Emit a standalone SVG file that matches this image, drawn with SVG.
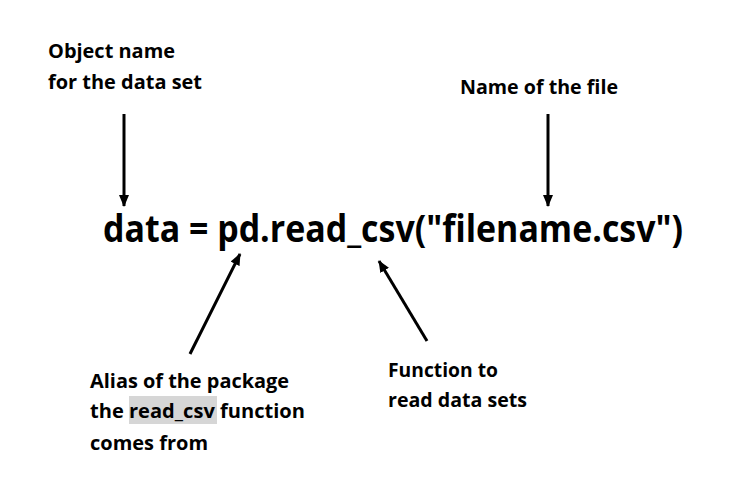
<svg xmlns="http://www.w3.org/2000/svg" width="741" height="494" viewBox="0 0 741 494">
<style>
.lbl{font-family:"Open Sans","Liberation Sans",sans-serif;font-weight:bold;font-size:19px;fill:#000}
.code{font-family:"Open Sans","Liberation Sans",sans-serif;font-weight:bold;font-size:37px;fill:#000}
.arr{stroke:#000;stroke-width:3;fill:none;marker-end:url(#ah)}
</style>
<defs>
<marker id="ah" viewBox="0 0 12 10" refX="11" refY="5" markerWidth="4" markerHeight="3.4" markerUnits="strokeWidth" orient="auto">
<path d="M0,0 L12,5 L0,10 Z" fill="#000"/>
</marker>
</defs>
<rect width="741" height="494" fill="#fff"/>
<g id="code">
<text class="code" x="103" y="242" textLength="580" lengthAdjust="spacingAndGlyphs">data = pd.read_csv("filename.csv")</text>
</g>
<g id="object-name">
<text class="lbl" x="48" y="58" textLength="127" lengthAdjust="spacingAndGlyphs">Object name</text>
<text class="lbl" x="48" y="89" textLength="154" lengthAdjust="spacingAndGlyphs">for the data set</text>
</g>
<g id="file-name">
<text class="lbl" x="460" y="94" textLength="158" lengthAdjust="spacingAndGlyphs">Name of the file</text>
</g>
<g id="alias">
<rect x="129" y="396" width="88" height="28" fill="#d6d6d6"/>
<text class="lbl" x="90" y="388" textLength="199" lengthAdjust="spacingAndGlyphs">Alias of the package</text>
<text class="lbl" x="90" y="418" textLength="215" lengthAdjust="spacingAndGlyphs">the read_csv function</text>
<text class="lbl" x="90" y="450" textLength="118" lengthAdjust="spacingAndGlyphs">comes from</text>
</g>
<g id="function">
<text class="lbl" x="388" y="377" textLength="110" lengthAdjust="spacingAndGlyphs">Function to</text>
<text class="lbl" x="388" y="407" textLength="139" lengthAdjust="spacingAndGlyphs">read data sets</text>
</g>
<g id="connectors">
<line class="arr" x1="124" y1="114" x2="124" y2="206"/>
<line class="arr" x1="548" y1="114" x2="548" y2="206"/>
<line class="arr" x1="190" y1="354" x2="240" y2="254"/>
<line class="arr" x1="427" y1="341" x2="379" y2="261"/>
</g>
</svg>
